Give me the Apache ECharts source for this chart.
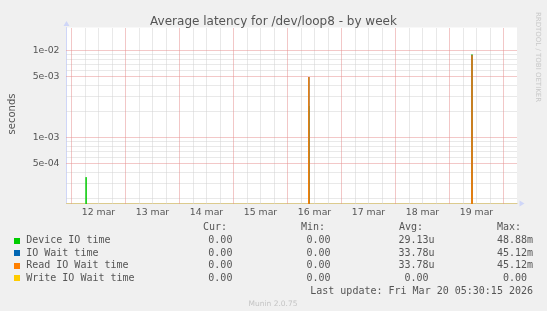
<!DOCTYPE html>
<html><head><meta charset="utf-8">
<script src="https://cdn.jsdelivr.net/npm/echarts@6/dist/echarts.min.js"></script>
<style>html,body{margin:0;padding:0;background:#f0f0f0}#c{width:547px;height:311px}</style>
</head><body><div id="c"></div>
<script>
// ---------- data ----------
const TITLE = 'Average latency for /dev/loop8 - by week';
const X_START = '2026-03-11T21:47:00Z';
const X_END = '2026-03-20T06:00:00Z';
const Y_MIN = 1.743e-4;
const Y_MAX = 1.8385e-2;

const MAJOR_X = ['2026-03-12T00:00:00Z','2026-03-13T00:00:00Z','2026-03-14T00:00:00Z','2026-03-15T00:00:00Z',
  '2026-03-16T00:00:00Z','2026-03-17T00:00:00Z','2026-03-18T00:00:00Z','2026-03-19T00:00:00Z','2026-03-20T00:00:00Z'];
const MINOR_X = [
  '2026-03-12T06:00:00Z','2026-03-12T12:00:00Z','2026-03-12T18:00:00Z',
  '2026-03-13T06:00:00Z','2026-03-13T12:00:00Z','2026-03-13T18:00:00Z',
  '2026-03-14T06:00:00Z','2026-03-14T12:00:00Z','2026-03-14T18:00:00Z',
  '2026-03-15T06:00:00Z','2026-03-15T12:00:00Z','2026-03-15T18:00:00Z',
  '2026-03-16T06:00:00Z','2026-03-16T12:00:00Z','2026-03-16T18:00:00Z',
  '2026-03-17T06:00:00Z','2026-03-17T12:00:00Z','2026-03-17T18:00:00Z',
  '2026-03-18T06:00:00Z','2026-03-18T12:00:00Z','2026-03-18T18:00:00Z',
  '2026-03-19T06:00:00Z','2026-03-19T12:00:00Z','2026-03-19T18:00:00Z'];
const MONTH_LABEL = 'mar';
const MAJOR_Y = [5e-4, 1e-3, 5e-3, 1e-2];
const MINOR_Y = [2e-4, 3e-4, 4e-4, 6e-4, 7e-4, 8e-4, 9e-4, 2e-3, 3e-3, 4e-3, 6e-3, 7e-3, 8e-3, 9e-3];

const SERIES_NAMES = ['Device IO time', 'IO Wait time', 'Read IO Wait time', 'Write IO Wait time'];
const SERIES_COLORS = ['#00cc00', '#0066b3', '#ff8000', '#ffcc00'];

const DEVICE_IO = [
  ['2026-03-11T22:00:00Z', 0],
  ['2026-03-12T06:00:00Z', 0], ['2026-03-12T06:30:00Z', 3.5e-4], ['2026-03-12T07:00:00Z', 0],
  ['2026-03-16T09:00:00Z', 0], ['2026-03-16T09:30:00Z', 2.3e-3], ['2026-03-16T10:00:00Z', 0],
  ['2026-03-19T09:30:00Z', 0], ['2026-03-19T10:00:00Z', 9.0e-3], ['2026-03-19T10:30:00Z', 0],
  ['2026-03-20T05:30:00Z', 0]];
const IO_WAIT = [
  ['2026-03-11T22:00:00Z', 0],
  ['2026-03-16T09:00:00Z', 0], ['2026-03-16T09:30:00Z', 4.95e-3], ['2026-03-16T10:00:00Z', 0],
  ['2026-03-19T09:30:00Z', 0], ['2026-03-19T10:00:00Z', 8.8e-3], ['2026-03-19T10:30:00Z', 0],
  ['2026-03-20T05:30:00Z', 0]];
const READ_IO_WAIT = [
  ['2026-03-11T22:00:00Z', 0],
  ['2026-03-16T09:00:00Z', 0], ['2026-03-16T09:30:00Z', 4.95e-3], ['2026-03-16T10:00:00Z', 0],
  ['2026-03-19T09:30:00Z', 0], ['2026-03-19T10:00:00Z', 8.8e-3], ['2026-03-19T10:30:00Z', 0],
  ['2026-03-20T05:30:00Z', 0]];
const WRITE_IO_WAIT = [
  ['2026-03-11T22:00:00Z', 0], ['2026-03-20T05:30:00Z', 0]];

const CUR = [0, 0, 0, 0];
const MIN = [0, 0, 0, 0];
const AVG = [29.13e-6, 33.78e-6, 33.78e-6, 0];
const MAX = [48.88e-3, 45.12e-3, 45.12e-3, 0];
const LAST_UPDATE = 'Last update: Fri Mar 20 05:30:15 2026';
const FOOTER = 'Munin 2.0.75';
const WATERMARK = 'RRDTOOL / TOBI OETIKER';
const Y_NAME = 'seconds';

// ---------- helpers ----------
const DAY = 86400000, HALF_DAY = 43200000;
const FLOOR = 1e-7; // zero samples sit below the log axis floor
const toPts = arr => arr.map(([t, v]) => [Date.parse(t), v > 0 ? v : FLOOR]);
const isDecade = v => { const l = Math.log10(v); return Math.abs(l - Math.round(l)) < 1e-6; };
function sci(v) {
  const e = Math.floor(Math.log10(v) + 1e-9);
  const m = Math.round(v / Math.pow(10, e));
  const ae = Math.abs(e);
  return m + 'e' + (e < 0 ? '-' : '+') + (ae < 10 ? '0' : '') + ae;
}
function si(v) {
  if (v === 0) return ['0.00', ''];
  const pref = [[1, ''], [1e-3, 'm'], [1e-6, 'u'], [1e-9, 'n']];
  for (const [f, s] of pref) if (Math.abs(v) >= f) return [(v / f).toFixed(2), s];
  return [v.toFixed(2), ''];
}

const SANS = 'DejaVu Sans';
const MONO = 'DejaVu Sans Mono';
const TXT = '#555555';
const GRID_GRAY = '#d2d2d2';
const GRID_RED = '#e69090';
const AXIS = '#CFD6F8';

const chart = echarts.init(document.getElementById('c'), null, {renderer: 'canvas'});

const mk = (color) => ({color: color, type: [1, 1], width: 1});
const minorGrid = {
  type: 'line', data: [], silent: true, z: 1, xAxisIndex: 0, yAxisIndex: 0,
  markLine: {
    silent: true, z: 1, precision: 12, symbol: ['none', 'none'], label: {show: false}, animation: false,
    emphasis: {disabled: true},
    data: [
      ...MINOR_X.map(t => ({xAxis: Date.parse(t), lineStyle: mk(GRID_GRAY)})),
      ...MINOR_Y.map(v => ({yAxis: v, lineStyle: mk(GRID_GRAY)}))
    ]
  }
};
const majorGrid = {
  type: 'line', data: [], silent: true, z: 2, xAxisIndex: 0, yAxisIndex: 0,
  markLine: {
    silent: true, z: 2, precision: 12, symbol: ['none', 'none'], label: {show: false}, animation: false,
    emphasis: {disabled: true}, lineStyle: mk(GRID_RED),
    data: [
      ...MAJOR_X.map(t => ({xAxis: Date.parse(t), lineStyle: mk(GRID_RED)})),
      ...MAJOR_Y.map(v => ({yAxis: v, lineStyle: mk(GRID_RED)}))
    ]
  }
};

const dataSets = [DEVICE_IO, IO_WAIT, READ_IO_WAIT, WRITE_IO_WAIT];
const lineSeries = dataSets.map((d, i) => ({
  name: SERIES_NAMES[i], type: 'line', data: toPts(d), showSymbol: false, z: 3,
  xAxisIndex: 0, yAxisIndex: 0, clip: true, silent: true,
  lineStyle: {color: SERIES_COLORS[i], width: 1}, itemStyle: {color: SERIES_COLORS[i]}
}));

// legend / stats block
const ROW_Y = [240.6, 253.1, 265.7, 278.3];
const HEAD_Y = 227.8;
const COL_RIGHT = [232.4, 330.6, 428.6, 527];
const HEADS = ['Cur:', 'Min:', 'Avg:', 'Max:'];
const HEAD_X = [203, 301, 399, 497];
const graphics = [];
const monoFont = '10px "' + MONO + '"';
HEADS.forEach((h, j) => graphics.push({type: 'text', silent: true, style: {text: h, x: HEAD_X[j], y: HEAD_Y, font: monoFont, fill: TXT, textAlign: 'left', textVerticalAlign: 'middle'}}));
SERIES_NAMES.forEach((n, i) => {
  graphics.push({type: 'rect', silent: true, shape: {x: 14, y: Math.round(ROW_Y[i]) - 3, width: 6, height: 6}, style: {fill: SERIES_COLORS[i]}});
  graphics.push({type: 'text', silent: true, style: {text: n, x: 26.2, y: ROW_Y[i], font: monoFont, fill: TXT, textAlign: 'left', textVerticalAlign: 'middle'}});
  [CUR[i], MIN[i], AVG[i], MAX[i]].forEach((v, j) => {
    const [num, unit] = si(v);
    graphics.push({type: 'text', silent: true, style: {text: num, x: COL_RIGHT[j], y: ROW_Y[i], font: monoFont, fill: TXT, textAlign: 'right', textVerticalAlign: 'middle'}});
    if (unit) graphics.push({type: 'text', silent: true, style: {text: unit, x: COL_RIGHT[j], y: ROW_Y[i], font: monoFont, fill: TXT, textAlign: 'left', textVerticalAlign: 'middle'}});
  });
});
graphics.push({type: 'text', silent: true, style: {text: LAST_UPDATE, x: 533, y: 291.3, font: monoFont, fill: TXT, textAlign: 'right', textVerticalAlign: 'middle'}});
graphics.push({type: 'text', silent: true, style: {text: FOOTER, x: 273, y: 304, font: '7.5px "' + SANS + '"', fill: '#c4c4c4', textAlign: 'center', textVerticalAlign: 'middle'}});
graphics.push({type: 'text', silent: true, rotation: -Math.PI / 2, x: 538, y: 57, style: {text: WATERMARK, x: 0, y: 0, font: '7px "' + SANS + '"', fill: '#c8c8c8', textAlign: 'center', textVerticalAlign: 'middle'}});
graphics.push({type: 'text', silent: true, rotation: Math.PI / 2, x: 12, y: 114, style: {text: Y_NAME, x: 0, y: 0, font: '10px "' + SANS + '"', fill: TXT, textAlign: 'center', textVerticalAlign: 'middle'}});

const labelStyle = {color: TXT, fontFamily: SANS, fontSize: 9.3};
const xMin = Date.parse(X_START), xMax = Date.parse(X_END);

chart.setOption({
  backgroundColor: '#f0f0f0',
  animation: false,
  useUTC: true,
  title: {text: TITLE, left: 'center', top: 11, textStyle: {fontFamily: SANS, fontSize: 12, fontWeight: 'normal', color: TXT}},
  grid: {left: 66.5, top: 27.5, width: 450.5, height: 176, backgroundColor: '#ffffff', show: true, borderWidth: 0},
  xAxis: [
    {type: 'time', min: xMin, max: xMax, position: 'bottom',
      axisLine: {show: true, lineStyle: {color: AXIS, width: 1}, symbol: ['none', 'triangle'], symbolSize: [6, 5], symbolOffset: [0, 5]},
      axisTick: {show: false}, splitLine: {show: false}, axisLabel: {show: false}},
    {type: 'time', min: xMin, max: xMax, position: 'bottom',
      axisLine: {show: true, lineStyle: {color: '#dccb8e', width: 1}},
      axisTick: {show: false}, splitLine: {show: false}, axisLabel: {show: false}},
    // label axis shifted by half a day: its midnight ticks fall on noon of the main axis
    {type: 'time', min: xMin + HALF_DAY, max: xMax + HALF_DAY, position: 'bottom',
      minInterval: DAY, maxInterval: DAY,
      axisLine: {show: false}, axisTick: {show: false}, splitLine: {show: false},
      axisLabel: Object.assign({show: true, margin: 5, hideOverlap: false,
        formatter: v => (v % DAY === 0) ? (new Date(v - HALF_DAY).getUTCDate() + ' ' + MONTH_LABEL) : ''}, labelStyle)}
  ],
  yAxis: [
    {type: 'log', min: Y_MIN, max: Y_MAX, position: 'left',
      axisLine: {show: true, lineStyle: {color: AXIS, width: 1}, symbol: ['none', 'triangle'], symbolSize: [6, 5], symbolOffset: [0, 4]},
      axisTick: {show: false}, splitLine: {show: false}, minorSplitLine: {show: false},
      axisLabel: Object.assign({margin: 7, formatter: v => isDecade(v) ? sci(v) : ''}, labelStyle)},
    {type: 'log', min: Y_MIN * 2, max: Y_MAX * 2, position: 'left',
      axisLine: {show: false}, axisTick: {show: false}, splitLine: {show: false},
      axisLabel: Object.assign({margin: 7, formatter: v => isDecade(v) ? sci(v / 2) : ''}, labelStyle)}
  ],
  series: [minorGrid, majorGrid, ...lineSeries],
  graphic: graphics
});
</script>
</body></html>
